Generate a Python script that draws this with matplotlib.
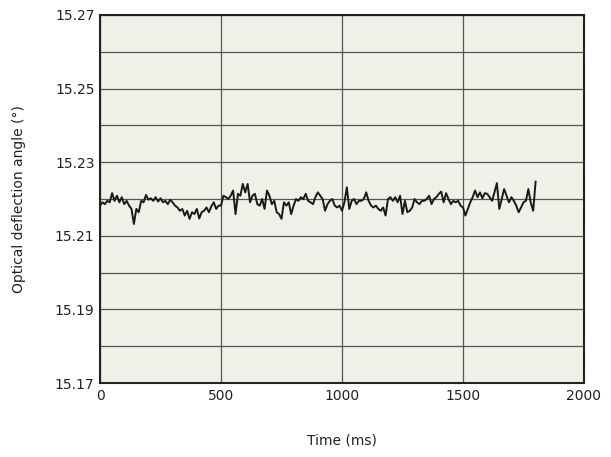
import matplotlib
matplotlib.use('agg')
import matplotlib.pyplot as plt
import numpy as np

# sample times (ms), one sample every 10 ms
time_ms = np.arange(0, 1810, 10)

# deflection offset from 15.22 deg, in thousandths of a degree
offset_milli = [
    # 0 - 490
    -1.8, -0.9, -1.4, -0.5, -0.9, 1.6, -0.5, 0.9, -0.9, 0.5,
    -1.4, -0.5, -1.8, -2.7, -6.8, -2.7, -3.6, -0.5, -0.9, 1.1,
    -0.2, 0.2, -0.5, 0.5, -0.7, 0.2, -0.9, -0.5, -1.4, -0.2,
    -0.9, -1.8, -2.3, -3.2, -2.7, -4.5, -3.2, -5.4, -3.6, -4.1,
    -2.7, -5.3, -3.6, -3.2, -2.3, -3.6, -2.0, -0.9, -2.7, -1.8,
    # 500 - 970
    -1.8, 0.9, 0.5, 0.0, 0.9, 2.3, -4.1, 1.4, 0.9, 4.1,
    1.8, 4.1, -0.9, 0.9, 1.4, -1.4, -1.8, 0.0, -2.7, 2.3,
    0.9, -1.4, -0.5, -3.6, -4.1, -5.4, -0.9, -1.8, -0.9, -4.1,
    -1.8, 0.0, -0.5, 0.5, 0.0, 1.4, -0.5, -0.9, -1.4, 0.5,
    1.8, 0.9, 0.0, -3.2, -1.4, -0.5, 0.0, -1.8,
    # 980 - 1480
    -2.3, -1.8, -3.2, -0.9, 3.2, -2.7, -0.5, 0.0, -1.4, -0.5,
    -0.5, 0.0, 1.8, -0.5, -1.8, -2.3, -1.8, -2.7, -3.2, -2.3,
    -4.5, 0.0, 0.5, -0.5, 0.5, -0.9, 0.9, -4.1, -0.5, -3.6,
    -3.2, -2.3, 0.0, -0.9, -1.4, -0.5, -0.5, 0.0, 0.9, -1.4,
    0.0, 0.5, 1.4, 2.0, -0.9, 1.6, 0.0, -1.4, -0.5, -0.9,
    -0.5,
    # 1490 - 1800
    -1.8, -2.3, -4.5, -2.7, -0.9, 0.5, 2.3, 0.5, 1.8, 0.2,
    1.6, 1.4, 0.5, -0.5, 1.8, 4.3, -2.7, 0.0, 2.7, 0.9,
    -0.9, 0.5, -0.5, -1.8, -3.6, -2.3, -0.9, -0.5, 2.7, -1.0,
    -3.2, 4.7,
]
base_angle = 15.22
angle_deg = base_angle + np.array(offset_milli) / 1000.0

y_major = [15.17, 15.19, 15.21, 15.23, 15.25, 15.27]
y_minor = [15.18, 15.20, 15.22, 15.24, 15.26]
x_ticks = [0, 500, 1000, 1500, 2000]

fig = plt.figure(figsize=(6.11, 4.57), dpi=100)
ax = fig.add_axes([0.1637, 0.1619, 0.7921, 0.8053])
ax.set_facecolor('#f1f0e8')

ax.plot(time_ms, angle_deg, color='#1a1a1a', linewidth=1.4, zorder=3)

ax.set_xlim(0, 2000)
ax.set_ylim(15.17, 15.27)
ax.set_xticks(x_ticks)
ax.set_yticks(y_major)
ax.set_yticks(y_minor, minor=True)
ax.set_yticklabels(['%.2f' % v for v in y_major])
ax.tick_params(which='both', length=0, labelsize=10, colors='#222222', pad=4)
ax.grid(True, which='both', color='#555555', linewidth=0.9, zorder=1)
ax.set_axisbelow(True)
for sp in ax.spines.values():
    sp.set_color('#222222')
    sp.set_linewidth(1.5)

ax.set_xlabel('Time (ms)', fontsize=10, color='#222222', labelpad=22)
ax.set_ylabel('Optical deflection angle (\u00b0)', fontsize=10, color='#222222', labelpad=21)

fig.savefig('out.png', dpi=100)
